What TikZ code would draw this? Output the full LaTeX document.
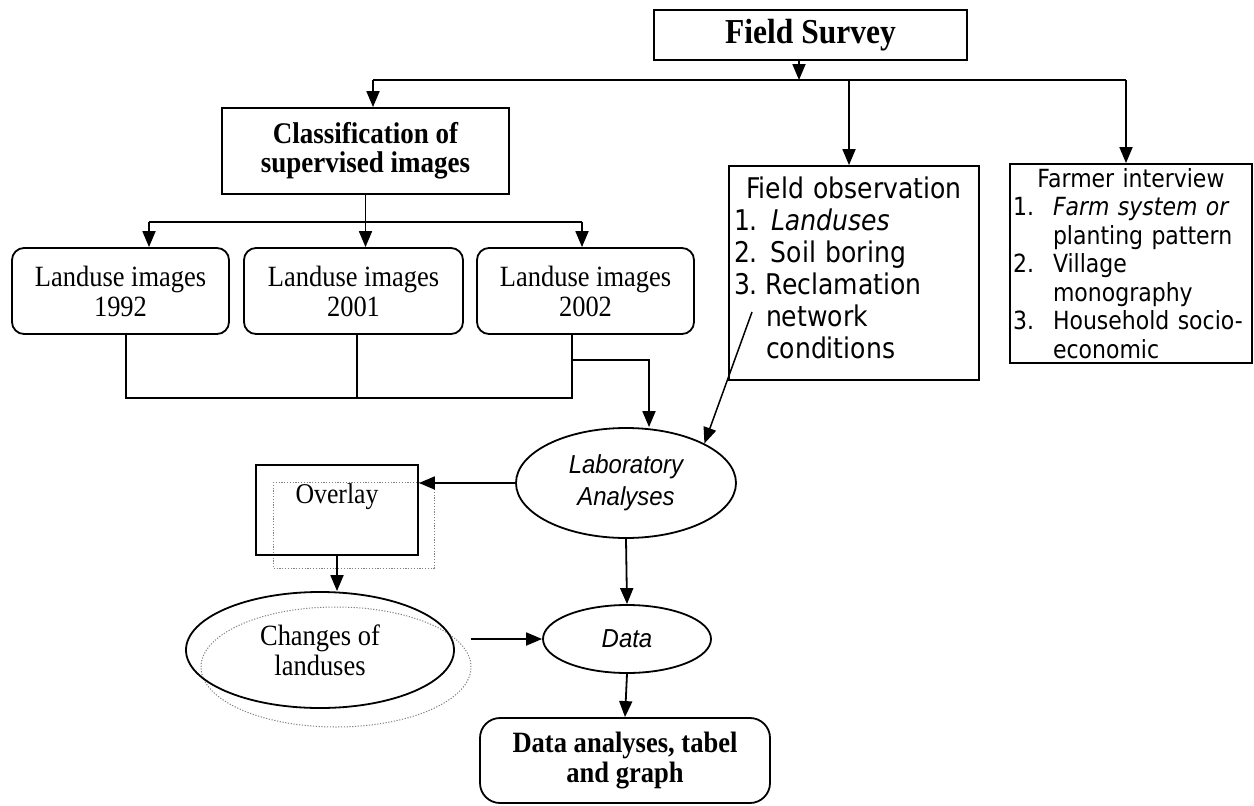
\documentclass[tikz,border=0pt]{standalone}
\usepackage{fontspec}
\setmainfont[FakeStretch=0.9]{Liberation Serif}
\newfontfamily\arialf[FakeStretch=0.92]{Liberation Sans}
\newfontfamily\tahf[FakeStretch=0.88]{DejaVu Sans}
\usetikzlibrary{arrows.meta,shapes.geometric}
\begin{document}
\begin{tikzpicture}[x=1pt,y=-1pt,
  line width=1.8pt,
  arr/.style={-{Triangle[length=16pt,width=13pt]}},
  sqbox/.style={draw, inner sep=0pt, align=center},
  rbox/.style={draw, rounded corners=12pt, inner sep=0pt, align=center},
  ell/.style={draw, ellipse, inner sep=0pt, align=center},
  shadowline/.style={draw=black!50, line width=1pt, dash pattern=on 1.2pt off 1.6pt},
  serif/.style={font=\fontsize{29.4}{30}\selectfont},
  serifb/.style={font=\bfseries\fontsize{30}{29}\selectfont},
  sansit/.style={font=\arialf\itshape\fontsize{26}{32}\selectfont},
]
\useasboundingbox (0,0) rectangle (1254,806);

% top
\node[sqbox, minimum width=313pt, minimum height=50pt, font=\bfseries\fontsize{35}{36}\selectfont] (fs) at (810.5,35) {Field Survey};
\node[sqbox, serifb, minimum width=287pt, minimum height=86pt] (cls) at (365.5,151) {Classification of\\supervised images};

\node[draw, minimum width=250pt, minimum height=214pt, inner xsep=5pt, inner ysep=0pt,
      text width=240pt, align=left, font=\tahf\fontsize{28.5}{32}\selectfont] (fob) at (854,273)
 {\makebox[\linewidth][c]{Field observation}\\
  \makebox[37pt][l]{1.}\textit{Landuses}\\
  \makebox[37pt][l]{2.}Soil boring\\
  \makebox[32pt][l]{3.}Reclamation\\
  \hspace*{32pt}network\\
  \hspace*{32pt}conditions\\[-21pt]\mbox{}};

\node[draw, minimum width=242pt, minimum height=199pt, inner xsep=3pt, inner ysep=0pt,
      text width=236pt, align=left, font=\tahf\fontsize{25}{28.5}\selectfont] (fi) at (1131,263.5)
 {\makebox[\linewidth][c]{Farmer interview}\\
  \makebox[40pt][l]{1.}\textit{Farm system or}\\
  \hspace*{40pt}planting pattern\\
  \makebox[40pt][l]{2.}Village\\
  \hspace*{40pt}monography\\
  \makebox[40pt][l]{3.}\mbox{Household socio-}\\
  \hspace*{40pt}economic};

% landuse images
\node[rbox, serif, minimum width=217pt, minimum height=86pt] (l92) at (120.5,291) {Landuse images\\1992};
\node[rbox, serif, minimum width=219pt, minimum height=86pt] (l01) at (353.5,291) {Landuse images\\2001};
\node[rbox, serif, minimum width=217pt, minimum height=86pt] (l02) at (585.5,291) {Landuse images\\2002};

% lower part
\node[ell, sansit, minimum width=220pt, minimum height=110pt] (lab) at (626,483) {Laboratory\\Analyses};
\draw[shadowline] (273,482) rectangle (434,568);
\node[draw, minimum width=162pt, minimum height=90pt, inner sep=0pt] (ov) at (337,510) {};
\node[font=\fontsize{28.6}{30}\selectfont] (ovt) at (337,497) {Overlay};
\draw[shadowline] (336,667) ellipse [x radius=135pt, y radius=60pt];
\node[ell, serif, minimum width=268pt, minimum height=116pt] (ch) at (320,650) {Changes of\\landuses};
\node[ell, sansit, minimum width=168pt, minimum height=68pt] (data) at (627,639) {Data};
\node[draw, rounded corners=20pt, inner sep=0pt, align=center, font=\bfseries\fontsize{29.5}{30}\selectfont,
      minimum width=290pt, minimum height=85pt] (da) at (625,760.5) {Data analyses, tabel\\and graph};

% connectors
\coordinate (j1) at (799,80);
\coordinate (t1) at (373,80);
\coordinate (t2) at (849,80);
\coordinate (t3) at (1126,80);
\draw[arr] (fs.south -| j1) -- (j1);
\draw (t1) -- (t3);
\draw[arr] (t1) -- (t1 |- cls.north);
\draw[arr] (t2) -- (t2 |- fob.north);
\draw[arr] (t3) -- (t3 |- fi.north);

\coordinate (s1) at (149,222);
\coordinate (s3) at (582,222);
\draw (s1) -- (s3);
\draw[arr] (cls.south) -- (cls.south |- l01.north);
\draw[arr] (s1) -- (s1 |- l92.north);
\draw[arr] (s3) -- (s3 |- l02.north);

\coordinate (b1) at (126,398);
\coordinate (b2) at (357,398);
\coordinate (b3) at (572,398);
\coordinate (br) at (649,360);
\draw (b1 |- l92.south) -- (b1) -- (b3) -- (b3 |- l02.south);
\draw (b2 |- l01.south) -- (b2);
\draw[arr] (b3 |- br) -- (br) -- (br |- lab.north);

\coordinate (obs) at (752,312);
\draw[arr, line width=1.5pt] (obs) -- (lab.north east);

\draw[arr] (lab.west) -- (lab.west -| ov.east);
\draw[arr] (ov.south) -- (ov.south |- ch.north);
\draw[arr, shorten <=16pt] (ch.east |- data.west) -- (data.west);
\draw[arr] (lab.south) -- (data.north);
\draw[arr] (data.south) -- (da.north);
\end{tikzpicture}
\end{document}
